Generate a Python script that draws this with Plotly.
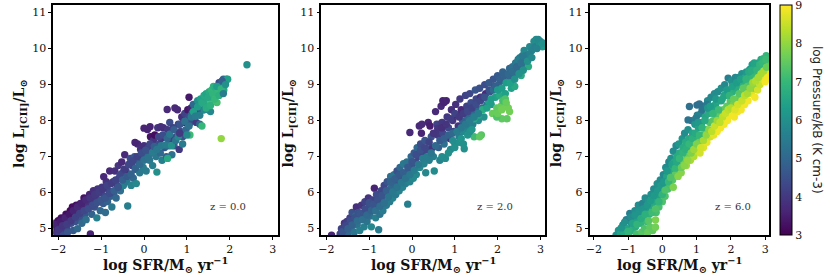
import plotly.graph_objects as go

# ---------- z = 0.0 ----------
z0_sfr = [-2.1,-2.08,-2.05,-2.03,-2.0,-1.98,-1.95,-1.93,-1.9,-1.88,
 -1.85,-1.82,-1.8,-1.78,-1.75,-1.72,-1.7,-1.67,-1.65,-1.62,
 -1.6,-1.58,-1.55,-1.52,-1.5,-1.48,-1.45,-1.42,-1.4,-1.38,
 -1.35,-1.32,-1.3,-1.27,-1.25,-1.22,-1.2,-1.18,-1.15,-1.12,
 -1.1,-1.08,-1.05,-1.02,-1.0,-0.98,-0.95,-0.92,-0.9,-0.88,
 -0.85,-0.82,-0.8,-0.78,-0.75,-0.72,-0.7,-0.68,-0.65,-0.62,
 -0.6,-0.58,-0.55,-0.52,-0.5,-0.48,-0.45,-0.42,-0.4,-0.38,
 -0.35,-0.32,-0.3,-0.28,-0.25,-0.22,-0.2,-0.18,-0.15,-0.12,
 -0.1,-0.08,-0.05,-0.02,0.0,0.03,0.05,0.08,0.1,0.13,
 0.15,0.18,0.2,0.22,0.25,0.28,0.3,0.32,0.35,0.38,
 0.4,0.42,0.45,0.48,0.5,0.52,0.55,0.58,0.6,0.62,
 0.65,0.68,0.7,0.72,0.75,0.78,0.8,0.82,0.85,0.88,
 0.55,0.9,0.92,0.95,0.98,1.0,1.02,1.05,1.07,1.1,
 1.05,1.08,1.12,1.15,1.18,1.2,1.22,1.25,1.28,1.3,
 1.32,1.35,1.38,1.4,1.42,1.45,1.48,1.5,1.52,1.55,
 1.58,1.6,1.62,1.65,1.68,1.7,1.72,1.75,1.78,1.8,
 1.8,1.85,1.88,1.9,1.92,1.95,1.55,2.4,1.82,1.86,
 -2.06,-2.0,-1.95,-1.9,-1.84,-1.8,-1.74,-1.7,-1.65,-1.6,
 -1.55,-1.5,-1.46,-1.4,-1.36,-1.3,-1.26,-1.2,-1.15,-1.1,
 -1.05,-1.0,-0.96,-0.9,-0.86,-0.8,-0.76,-0.7,-0.66,-0.6,
 -0.56,-0.5,-0.46,-0.4,-0.36,-0.3,-0.26,-0.2,-0.16,-0.1,
 -0.06,0.0,0.04,0.1,0.14,0.2,0.24,0.3,0.34,0.4,
 0.44,0.5,0.54,0.6,0.64,0.7,0.74,0.8,0.84,0.9,
 0.95,1.0,1.05,1.1,1.15,1.2,1.25,1.3,1.35,1.4,
 1.45,1.5,1.55,1.6,1.65,1.7,1.75,1.8,1.85,1.9,
 0.54,0.0,0.14,0.39,-0.21,-0.94,0.83]
z0_lcii = [4.95,5.15,4.85,5.05,5.22,4.9,5.1,5.3,5.0,4.82,
 5.2,5.4,5.05,4.9,5.3,5.5,5.15,5.6,4.95,5.4,
 5.2,5.65,5.0,5.5,5.3,5.7,5.15,5.6,5.85,5.4,
 5.25,5.7,5.55,5.95,4.85,5.4,5.8,6.05,5.6,5.9,
 5.3,6.1,5.75,5.5,6.0,6.15,5.7,5.9,5.45,6.3,
 5.75,6.05,6.6,5.9,5.6,6.3,6.0,6.6,5.85,6.2,
 6.75,6.4,6.05,6.85,6.55,6.2,7.05,6.6,6.3,5.63,
 6.5,6.95,6.2,6.75,6.4,7.0,6.65,6.25,7.35,6.85,
 6.55,7.2,6.95,6.7,7.3,7.05,6.6,7.75,7.25,6.9,
 7.55,7.1,6.75,7.45,7.6,7.0,6.57,7.8,7.35,7.1,
 7.5,6.9,7.8,7.25,7.55,7.0,7.75,7.3,7.95,7.5,
 7.05,7.8,7.3,8.35,7.55,8.3,7.9,7.2,7.7,8.1,
 6.95,7.55,7.95,8.2,7.75,8.0,8.3,8.1,7.6,8.35,
 8.65,7.95,8.2,8.45,8.1,8.35,7.95,8.55,8.25,7.9,
 8.6,7.85,8.3,8.7,8.45,8.75,8.55,8.3,8.8,8.55,
 8.85,8.65,8.95,8.75,8.9,8.5,8.8,9.05,9.0,7.5,
 8.95,9.15,9.0,9.1,9.15,9.15,8.25,9.55,9.1,8.85,
 5.12,4.97,5.2,5.08,5.3,5.12,5.4,5.22,5.5,5.32,
 5.6,5.42,5.7,5.5,5.8,5.55,5.85,5.65,5.95,5.72,
 6.02,5.8,6.1,5.85,6.2,5.98,6.25,6.05,6.35,6.15,
 6.5,6.35,6.65,6.45,6.78,6.52,6.88,6.68,7.0,6.78,
 7.1,6.9,7.18,6.98,7.35,7.12,7.28,7.2,7.55,7.3,
 7.6,7.32,7.5,7.62,7.3,7.75,7.45,7.55,7.9,7.35,
 7.98,7.6,7.85,8.1,8.25,8.12,8.38,8.15,8.5,8.3,
 8.35,8.65,8.42,8.75,8.6,8.95,8.7,8.88,8.75,9.0,
 8.31,7.79,7.83,7.83,7.39,6.44,7.65]
z0_pressure = [3.3,3.4,3.9,3.6,3.2,4.2,3.5,3.3,4.0,4.4,
 3.4,3.2,4.3,4.6,3.7,3.1,4.4,3.2,4.7,3.6,
 4.5,3.3,5.0,3.8,4.5,3.4,5.0,3.7,3.3,4.6,
 5.2,3.9,4.4,3.6,3.6,4.9,4.0,3.8,4.5,4.0,
 5.6,3.9,4.3,5.0,4.2,4.0,4.7,4.3,5.1,3.9,
 4.9,4.3,3.7,4.8,5.4,4.0,4.6,3.8,5.0,4.4,
 3.9,4.3,5.2,3.7,4.4,5.6,3.7,4.2,5.4,5.6,
 3.6,4.4,5.7,4.2,5.0,4.6,4.4,5.8,3.7,4.8,
 5.4,3.8,4.6,5.5,3.8,5.0,5.5,3.6,4.2,5.4,
 3.3,4.6,5.6,3.9,3.2,5.4,6.0,3.9,4.4,5.0,
 4.0,5.6,3.8,4.6,3.7,4.9,4.0,5.0,4.4,4.2,
 5.2,4.2,4.7,3.7,4.4,3.7,4.3,4.0,4.4,3.8,
 6.6,4.5,3.7,4.2,5.0,3.7,3.4,4.4,7.1,3.6,
 3.4,4.4,5.0,5.0,6.6,5.0,4.0,6.0,4.4,5.0,
 6.4,7.0,4.6,6.6,6.7,6.5,6.6,5.6,6.7,7.2,
 7.0,6.7,6.8,6.3,6.6,7.2,7.0,4.3,4.6,8.0,
 5.5,5.0,6.6,6.0,5.5,6.4,5.8,6.0,4.8,6.6,
 3.6,4.0,3.5,3.9,3.6,4.1,3.4,4.0,3.6,4.2,
 3.7,4.2,3.6,4.3,3.7,4.4,3.9,4.4,4.0,4.5,
 4.1,4.6,4.0,4.6,4.2,4.4,4.1,4.8,4.2,4.6,
 4.3,4.8,4.1,4.7,4.3,4.9,4.3,4.9,4.2,5.0,
 4.4,5.2,4.5,5.3,4.3,5.5,4.8,5.4,4.3,5.4,
 4.4,5.5,5.0,5.4,6.0,4.8,5.3,5.8,4.6,5.5,
 5.2,5.8,5.2,5.4,6.4,5.5,6.3,5.6,6.6,5.8,
 6.7,6.6,6.8,6.9,7.0,6.3,6.8,6.9,5.5,6.0,
 3.7,3.6,3.6,3.8,3.6,3.7,4.0]

# ---------- z = 2.0 ----------
z2_sfr = [-1.88,-1.68,-1.65,-1.6,-1.58,-1.55,-1.52,-1.5,-1.48,-1.45,
 -1.42,-1.4,-1.38,-1.35,-1.32,-1.3,-1.28,-1.25,-1.22,-1.2,
 -1.18,-1.15,-1.12,-1.1,-1.08,-1.05,-1.02,-1.0,-0.98,-0.95,
 -0.92,-0.9,-0.88,-0.85,-0.83,-0.8,-0.78,-0.75,-0.72,-0.7,
 -0.68,-0.65,-0.62,-0.6,-0.58,-0.55,-0.52,-0.5,-0.48,-0.45,
 -0.42,-0.4,-0.38,-0.35,-0.32,-0.3,-0.28,-0.25,-0.22,-0.2,
 -0.18,-0.15,-0.12,-0.1,-0.08,-0.05,-0.02,0.0,0.03,0.05,
 0.08,0.1,0.12,0.15,0.18,0.2,0.22,0.25,0.28,0.3,
 0.32,0.35,0.38,0.4,0.42,0.45,0.48,0.5,0.52,0.55,
 0.58,0.6,0.62,0.65,0.68,0.7,0.72,0.75,0.78,0.8,
 0.82,0.85,0.88,0.9,0.92,0.95,0.98,1.0,1.02,1.05,
 1.08,1.1,1.12,1.15,1.18,1.2,1.22,1.25,1.28,1.3,
 1.32,1.35,1.38,1.4,1.42,1.45,1.48,1.5,1.52,1.55,
 1.58,1.6,1.62,1.65,1.68,1.7,1.72,1.75,1.78,1.8,
 1.82,1.85,1.88,1.9,1.92,1.95,1.98,2.0,2.02,2.05,
 2.08,2.1,2.12,2.15,2.18,2.2,2.22,2.25,2.28,2.3,
 2.32,2.35,2.38,2.4,2.42,2.45,2.48,2.5,2.52,2.55,
 2.58,2.6,2.62,2.65,2.68,2.72,2.75,2.8,2.85,2.88,
 2.9,2.95,2.98,3.0,3.02,3.05,3.07,2.92,
 1.98,2.12,2.18,2.28,2.0,2.1,2.2,1.45,1.55,1.65,
 1.0,1.1,1.15,1.2,1.3,1.35,1.4,0.95,0.85,0.7,
 -0.05,0.17,0.23,0.75,0.72,1.58,
 -1.62,-1.56,-1.5,-1.44,-1.4,-1.34,-1.28,-1.22,-1.16,-1.1,
 -1.05,-1.0,-0.95,-0.9,-0.85,-0.8,-0.75,-0.7,-0.65,-0.6,
 -0.55,-0.5,-0.45,-0.4,-0.35,-0.3,-0.25,-0.2,-0.15,-0.1,
 -0.05,0.0,0.05,0.1,0.15,0.2,0.25,0.3,0.35,0.4,
 0.45,0.5,0.55,0.6,0.65,0.7,0.75,0.8,0.85,0.9,
 0.95,1.0,1.05,1.1,1.15,1.2,1.25,1.3,1.35,1.4,
 1.45,1.5,1.55,1.6,1.65,1.7,1.75,1.8,1.85,1.9,
 1.95,2.0,2.05,2.1,2.15,2.2,2.25,2.3,2.35,2.4,
 2.45,2.5,2.55,2.6,2.65,2.7,2.75,2.8]
z2_lcii = [4.82,4.85,5.0,4.85,5.15,5.0,5.2,4.85,5.1,5.3,
 5.0,5.45,5.2,4.9,5.35,5.6,5.1,5.45,4.95,5.25,
 5.65,5.4,5.05,5.75,5.5,5.2,5.85,5.6,5.35,5.05,
 5.8,5.55,6.12,5.3,5.95,5.65,4.97,5.4,6.05,5.8,
 5.5,6.2,5.95,5.65,6.3,6.05,5.75,6.45,6.15,5.85,
 6.5,6.25,5.95,6.6,6.35,6.05,6.7,6.45,6.15,6.8,
 6.5,6.25,6.85,5.68,6.6,6.3,7.0,6.7,6.4,7.1,
 6.85,6.5,7.25,7.0,6.7,7.35,7.65,7.1,6.8,7.45,
 6.55,7.2,7.95,6.9,7.85,7.55,7.25,7.0,6.6,8.25,
 7.9,7.6,7.25,6.9,8.4,7.95,7.65,7.35,6.95,8.55,
 8.1,7.8,7.5,7.2,8.3,8.0,7.7,7.35,8.45,8.15,
 7.85,7.55,8.6,8.3,8.0,7.7,7.22,8.7,8.4,8.1,
 7.8,8.75,8.5,8.2,7.9,7.55,8.85,8.6,8.3,8.0,
 8.9,8.65,7.6,8.35,8.1,9.0,8.75,8.45,8.55,9.05,
 8.8,8.45,8.2,9.15,8.95,8.65,8.35,9.25,9.0,8.7,
 8.4,8.05,9.35,9.1,8.75,8.45,8.05,8.35,9.45,9.2,
 8.9,9.5,9.25,8.95,9.6,9.35,9.7,9.5,9.75,9.25,
 9.8,9.55,9.95,9.65,9.8,9.5,10.05,9.95,10.2,10.05,
 10.25,10.25,10.15,10.2,10.1,10.05,10.15,10.0,
 8.1,8.55,8.6,8.25,8.2,8.3,8.5,8.05,8.15,8.3,
 7.25,7.4,7.5,7.35,7.6,7.7,7.75,7.45,7.1,7.0,
 7.67,7.85,7.9,8.5,8.55,7.55,
 4.92,5.08,5.0,5.22,5.1,5.3,5.22,5.42,5.25,5.55,
 5.38,5.72,5.5,5.68,5.5,5.8,5.62,5.92,5.72,6.05,
 5.88,6.3,6.02,6.38,6.15,6.5,6.28,6.55,6.4,6.7,
 6.5,6.85,6.62,7.05,6.78,7.18,6.95,7.25,7.0,7.4,
 7.1,7.65,7.3,7.78,7.45,7.8,7.5,7.9,7.6,8.05,
 7.65,8.2,7.7,8.1,7.8,8.2,7.9,8.25,8.0,8.35,
 8.1,8.45,8.2,8.55,8.65,8.65,8.35,8.85,8.6,8.85,
 8.95,8.85,9.15,8.9,9.25,9.05,9.3,9.05,9.35,9.15,
 9.5,9.3,9.6,9.4,9.8,9.65,9.85,9.75]
z2_pressure = [3.6,4.3,4.2,4.8,3.9,4.5,4.1,5.0,4.6,4.2,
 5.2,4.5,4.4,5.3,4.9,3.8,5.3,4.5,5.6,4.7,
 3.9,4.9,5.6,4.2,4.5,5.3,3.9,4.6,5.2,5.8,
 4.2,5.0,3.6,5.6,4.4,4.6,5.5,5.3,4.3,5.0,
 5.5,4.3,4.7,5.4,4.6,4.8,5.5,5.2,5.0,5.7,
 5.3,4.9,5.4,4.5,4.6,5.7,5.0,4.6,5.7,5.4,
 4.8,5.5,5.3,5.6,4.9,5.7,5.0,4.5,5.8,4.7,
 4.4,5.8,5.0,4.3,5.8,4.4,3.6,4.3,5.7,4.6,
 5.8,4.3,3.6,5.6,3.5,4.5,3.9,5.6,5.9,3.7,
 4.2,4.0,4.8,5.7,3.7,4.0,4.3,5.2,5.9,3.6,
 4.0,4.3,3.9,5.8,3.8,3.9,4.2,5.9,3.8,3.7,
 3.9,5.6,4.0,3.7,4.8,5.8,6.0,4.2,4.2,5.0,
 5.6,4.3,4.4,5.0,5.6,7.1,4.6,4.3,5.0,5.9,
 4.5,3.8,7.4,5.2,6.0,4.4,3.7,5.3,6.4,4.7,
 4.6,6.3,7.6,4.6,4.6,6.4,7.5,4.7,4.9,6.6,
 7.6,7.5,4.9,5.0,6.4,7.7,7.5,7.7,5.0,5.0,
 6.4,5.2,5.2,6.6,5.4,5.2,5.5,5.2,5.6,6.6,
 5.4,5.3,5.8,5.4,5.5,6.7,5.8,5.7,5.9,5.6,
 5.9,5.8,5.9,5.8,6.0,6.2,6.0,5.7,
 7.3,7.2,7.3,7.7,7.6,7.7,7.6,6.6,6.5,6.7,
 6.0,6.0,6.1,6.0,6.1,6.0,6.1,5.9,6.0,5.9,
 3.7,3.7,3.7,3.6,3.6,7.5,
 4.6,4.3,4.8,4.4,4.9,4.5,5.1,4.6,5.2,4.4,
 5.0,4.5,4.9,4.6,5.2,4.5,5.1,4.6,5.2,4.8,
 5.3,4.9,5.4,4.8,5.3,4.7,5.4,4.8,5.3,4.7,
 5.4,4.6,5.5,4.4,5.4,4.5,5.5,4.3,5.5,4.2,
 5.3,3.9,5.0,3.9,4.7,3.8,4.8,3.9,4.9,4.1,
 5.0,4.2,5.5,4.0,5.4,4.1,5.4,4.3,5.5,4.2,
 5.6,4.4,5.6,4.3,4.2,4.5,6.4,4.5,6.3,5.0,
 4.8,6.2,4.8,6.3,4.9,6.3,5.0,6.4,5.1,6.0,
 5.0,6.0,5.2,6.0,5.4,6.0,5.6,5.8]

# ---------- z = 6.0 ----------
z6_sfr = [-1.35,-1.28,-1.22,-1.15,-1.12,-1.05,-1.02,-0.98,
 -0.95,-0.9,-0.88,-0.85,-0.8,-0.78,-0.75,-0.72,
 -0.7,-0.66,-0.62,-0.6,-0.58,-0.55,-0.52,-0.5,
 -0.48,-0.45,-0.42,-0.4,-0.38,-0.36,-0.33,-0.3,-0.28,-0.2,-0.2,
 -0.25,-0.22,-0.18,-0.15,-0.12,-0.1,-0.06,-0.03,0.0,0.03,
 0.05,0.08,0.1,0.13,0.16,0.19,0.2,0.22,0.25,0.28,
 0.3,0.32,0.35,0.38,0.4,0.42,0.45,0.48,0.5,0.52,
 0.55,0.58,0.6,0.62,0.65,0.68,0.7,0.72,0.75,0.78,
 0.8,0.82,0.85,0.88,0.9,0.92,0.95,0.98,1.0,1.02,
 1.05,1.08,1.1,1.13,1.15,1.18,1.2,1.22,1.25,1.28,
 1.3,1.32,1.35,1.38,1.4,1.42,1.45,1.48,1.5,1.52,
 1.55,1.58,1.6,1.62,1.65,1.68,1.7,1.72,1.75,1.78,
 1.8,1.82,1.85,1.88,1.9,1.92,1.95,1.98,2.0,2.02,
 2.05,2.08,2.1,2.13,2.15,2.18,2.2,2.22,2.25,2.28,
 2.3,2.32,2.35,2.38,2.4,2.42,2.45,2.48,2.5,2.52,
 2.55,2.58,2.6,2.62,2.65,2.68,2.7,2.72,2.75,2.78,
 2.8,2.82,2.85,2.88,2.9,2.92,2.95,2.98,3.0,3.03,3.05,3.06,
 0.79,1.01,1.08,1.3,1.16,0.75,0.98,
 -1.2,-1.1,-1.0,-0.92,-0.86,-0.8,-0.74,-0.68,-0.62,-0.56,
 -0.5,-0.44,-0.4,-0.34,-0.3,-0.24,-0.2,-0.14,-0.1,-0.04,
 0.0,0.04,0.08,0.14,0.18,0.24,0.28,0.32,0.38,0.42,
 0.46,0.5,0.56,0.6,0.64,0.7,0.74,0.78,0.84,0.88,
 0.92,0.96,1.0,1.04,1.08,1.12,1.16,1.2,1.24,1.28,
 1.32,1.36,1.4,1.44,1.48,1.52,1.56,1.6,1.64,1.68,
 1.72,1.76,1.8,1.84,1.88,1.92,1.96,2.0,2.04,2.08,
 2.12,2.16,2.2,2.24,2.28,2.32,2.36,2.4,2.44,2.48,
 2.52,2.56,2.6,2.64,2.68,2.72,2.76,2.8,2.84,2.88,
 2.92,2.96,3.0,3.02,3.04,3.06]
z6_lcii = [4.82,4.95,4.85,5.1,4.9,5.25,5.0,4.85,
 5.42,5.15,4.95,5.3,5.5,5.05,4.85,5.25,
 5.65,5.45,5.15,4.9,5.7,5.3,5.0,5.85,
 5.55,5.2,4.9,5.75,5.4,5.05,5.95,5.6,4.95,5.24,5.04,
 6.1,5.75,5.45,6.25,5.9,5.6,6.35,6.05,5.75,6.5,
 6.2,5.9,6.7,6.45,6.1,6.85,6.55,6.25,6.95,6.65,
 6.35,7.15,6.85,6.5,7.3,7.0,6.65,7.35,7.1,6.8,
 6.55,7.5,7.25,6.9,7.65,7.4,6.75,7.05,7.75,7.5,
 7.2,6.9,8.0,7.65,7.35,7.0,7.9,7.5,7.15,8.15,
 7.8,7.4,7.1,8.2,7.95,7.6,7.25,8.4,8.1,7.75,
 7.4,8.55,8.2,7.95,7.55,8.65,8.35,8.0,7.6,8.75,
 8.45,8.1,7.7,8.8,8.55,8.2,7.8,8.9,8.6,8.3,
 7.9,9.0,8.7,8.4,8.0,9.18,8.85,8.55,8.15,9.1,
 8.8,8.45,8.1,9.2,8.9,8.6,8.25,9.2,9.0,8.7,
 8.3,9.3,9.05,8.8,8.45,9.2,9.35,8.95,8.55,9.2,
 9.42,9.05,8.75,9.55,9.25,8.9,8.65,9.45,9.15,8.85,
 9.6,9.3,9.0,9.7,9.45,9.15,9.72,9.5,9.25,9.8,9.6,9.35,
 8.39,8.43,8.46,8.45,8.3,8.02,8.07,
 5.02,5.18,4.92,5.32,5.15,5.38,5.12,5.5,5.28,5.55,
 5.4,5.65,5.22,5.78,5.45,5.92,5.55,6.05,5.75,6.2,
 5.95,6.3,6.07,6.6,6.3,6.42,6.78,6.15,6.68,6.85,
 6.45,6.95,6.7,7.1,6.75,7.2,6.9,7.35,7.1,7.5,
 7.2,7.65,7.35,7.95,7.6,7.25,7.8,7.45,8.0,7.6,
 8.35,7.75,8.4,7.7,8.2,7.85,8.6,8.0,8.3,7.95,
 8.55,8.1,8.7,8.2,8.85,8.3,8.7,8.35,8.95,8.6,
 8.3,9.05,8.45,8.75,9.15,8.55,8.9,8.7,9.15,8.75,
 9.35,8.9,9.4,9.05,9.6,9.1,9.4,9.2,9.55,9.3,
 9.6,9.38,9.08,9.7,9.48,9.18]
z6_pressure = [6.0,6.1,6.5,5.9,6.6,5.6,6.5,7.1,
 5.6,6.1,6.8,5.8,5.9,6.7,7.2,6.4,
 5.9,6.1,6.9,7.4,5.7,6.6,7.3,5.9,
 6.3,7.1,7.6,6.1,6.9,7.5,6.0,6.6,7.5,7.8,7.7,
 5.9,6.6,7.2,6.0,6.5,7.2,5.9,6.5,7.3,5.8,
 6.4,7.3,5.9,6.5,7.2,5.8,6.6,7.3,6.0,6.7,
 7.4,5.9,6.6,7.5,5.8,6.6,7.6,6.2,6.7,7.5,
 7.9,6.1,6.7,7.7,5.9,6.7,8.1,7.6,6.0,6.6,
 7.4,8.2,5.6,6.5,7.4,8.3,6.1,7.0,8.4,5.7,
 6.4,7.6,8.6,5.7,6.4,7.2,8.7,5.7,6.5,7.5,
 8.8,5.8,6.6,7.3,8.6,5.8,6.5,7.4,8.8,5.9,
 6.5,7.4,8.9,5.9,6.6,7.5,8.9,6.0,6.7,7.5,
 8.9,5.8,6.7,7.5,8.9,5.6,6.5,7.4,8.9,6.0,
 6.8,7.7,8.9,5.8,6.7,7.5,8.9,5.9,6.7,7.6,
 8.9,6.0,6.8,7.6,8.9,6.6,6.2,7.4,8.9,7.0,
 6.2,7.3,8.7,6.3,7.0,7.9,8.9,6.6,7.4,8.6,
 6.5,7.2,8.5,6.6,7.0,8.6,6.9,7.3,8.8,7.0,7.5,8.9,
 5.2,5.2,5.2,5.4,5.3,5.3,5.5,
 6.1,6.0,6.9,5.9,6.5,6.1,6.9,6.1,6.7,6.1,
 6.8,6.2,7.4,6.3,7.1,6.2,7.3,6.2,6.9,6.2,
 6.9,6.2,7.3,6.2,7.0,7.3,6.4,7.8,7.0,6.6,
 7.9,7.0,7.6,6.9,7.9,6.8,8.0,7.0,7.8,6.8,
 8.1,6.6,7.8,6.2,7.0,8.6,6.9,8.2,6.6,8.0,
 6.1,7.9,6.3,8.4,7.0,8.5,6.2,8.1,7.1,8.4,
 6.5,8.4,6.5,8.5,6.3,8.4,6.9,8.3,6.4,7.6,
 8.7,6.3,8.6,7.4,6.4,8.5,7.5,8.4,6.9,8.2,
 6.6,8.0,6.7,8.1,6.5,8.3,6.9,8.2,6.9,8.2,
 7.0,8.2,8.9,7.1,7.6,8.9]

panel_labels = ["z = 0.0", "z = 2.0", "z = 6.0"]
x_ticks = [-2, -1, 0, 1, 2, 3]
y_ticks = [5, 6, 7, 8, 9, 10, 11]
colorbar_ticks = [3, 4, 5, 6, 7, 8, 9]
x_title = "log SFR/M<sub>⊙</sub> yr<sup>−1</sup>"
y_title = "log L<sub>[CII]</sub>/L<sub>⊙</sub>"
colorbar_title = "log Pressure/kB (K cm-3)"

assert len(z0_sfr) == len(z0_lcii) == len(z0_pressure)
assert len(z2_sfr) == len(z2_lcii) == len(z2_pressure)
assert len(z6_sfr) == len(z6_lcii) == len(z6_pressure)

W, H = 830, 277
TOP, BOTTOM = 5, 235.3
panels = [(49.5, 275), (319, 544), (588.5, 769)]
xtitle_centres = [162.5, 431.5, 678.5]
ytitle_centres = [16, 286, 556]
SERIF = "DejaVu Serif"
tick_font = dict(family=SERIF, size=11, color="#111")
title_font = dict(family=SERIF, size=14, color="#111")

fig = go.Figure()
series = [(z0_sfr, z0_lcii, z0_pressure), (z2_sfr, z2_lcii, z2_pressure), (z6_sfr, z6_lcii, z6_pressure)]
for i, ((xs, ys, ps), (left, right)) in enumerate(zip(series, panels), start=1):
    fig.add_trace(go.Scatter(x=xs, y=ys, mode="markers", xaxis=f"x{i}", yaxis=f"y{i}",
                             showlegend=False,
                             marker=dict(color=ps, coloraxis="coloraxis", size=7.4, line=dict(width=0))))
    axis_common = dict(showgrid=False, zeroline=False, showline=True, mirror=True, linecolor="black",
                       linewidth=1.8, ticks="outside", ticklen=3, tickwidth=1, tickcolor="black",
                       tickfont=tick_font)
    fig.layout[f"xaxis{i}"] = dict(axis_common, domain=[left / W, right / W], anchor=f"y{i}",
                                   range=[-2.116, 3.116] if i < 3 else [-2.12, 3.12],
                                   tickvals=x_ticks)
    fig.layout[f"yaxis{i}"] = dict(axis_common, domain=[(H - BOTTOM) / H, (H - TOP) / H], anchor=f"x{i}",
                                   range=[4.815, 11.21], tickvals=y_ticks)
    fig.add_annotation(x=1.95 if i < 3 else 2.07, y=5.61, xref=f"x{i}", yref=f"y{i}",
                       text=panel_labels[i - 1], showarrow=False,
                       font=dict(family=SERIF, size=10, color="#333"))
    fig.add_annotation(x=xtitle_centres[i - 1] / W, y=(H - 265) / H, xref="paper", yref="paper",
                       xanchor="center", yanchor="middle",
                       text=f"<b>{x_title}</b>", showarrow=False, font=title_font)
    fig.add_annotation(x=ytitle_centres[i - 1] / W, y=(H - 123) / H, xref="paper", yref="paper",
                       xanchor="center", yanchor="middle",
                       text=f"<b>{y_title}</b>", showarrow=False, textangle=-90, font=title_font)

fig.add_annotation(x=817 / W, y=(H - 120) / H, xref="paper", yref="paper", text=colorbar_title,
                   xanchor="center", yanchor="middle",
                   showarrow=False, textangle=90,
                   font=dict(family="DejaVu Sans", size=12, color="#222"))

fig.update_layout(
    width=W, height=H, margin=dict(l=0, r=0, t=0, b=0),
    paper_bgcolor="white", plot_bgcolor="white",
    coloraxis=dict(
        colorscale="Viridis", cmin=3, cmax=9,
        colorbar=dict(
            thickness=11.5, thicknessmode="pixels", len=(BOTTOM - TOP) / H, lenmode="fraction",
            x=780 / W, xanchor="left", xref="paper", y=(H - BOTTOM) / H, yanchor="bottom", yref="paper",
            xpad=0, ypad=0, ticklabeloverflow="allow",
            tickvals=colorbar_ticks, ticks="", outlinecolor="black", outlinewidth=1,
            tickfont=dict(family=SERIF, size=11, color="#111"),
        ),
    ),
)
fig.write_html("out.html", config={"displayModeBar": False},
               post_script="document.body.style.margin='0';")
